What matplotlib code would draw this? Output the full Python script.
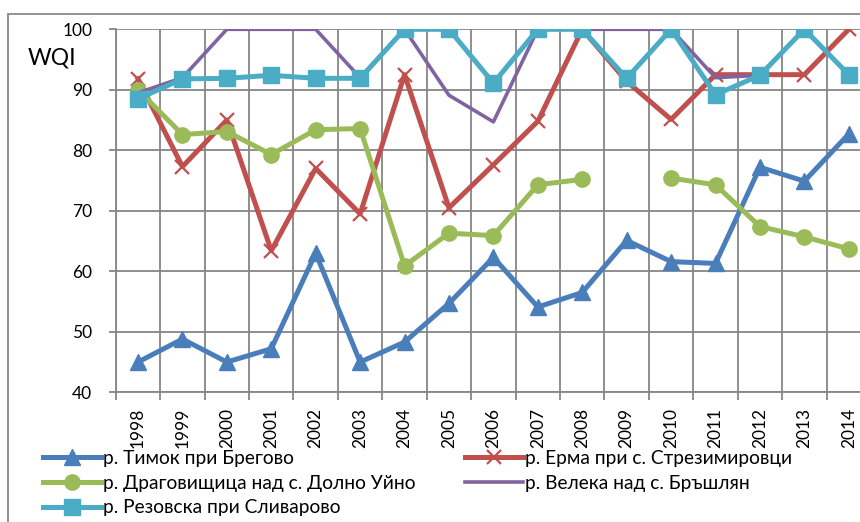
import numpy as np
import matplotlib
matplotlib.use("Agg")
import matplotlib.pyplot as plt
from matplotlib.patches import Rectangle

plt.rcParams['font.family'] = ['Lato', 'DejaVu Sans']

years = [str(y) for y in range(1998, 2015)]
timok = [45.0, 48.8, 45.0, 47.2, 63.0, 45.0, 48.3, 54.7, 62.3, 54.1, 56.5, 65.1, 61.6, 61.3, 77.2, 74.9, 82.7]
erma = [91.8, 77.3, 85.0, 63.4, 77.0, 69.5, 92.5, 70.5, 77.6, 84.8, 100.0, 91.4, 85.1, 92.5, 92.5, 92.5, 100.0]
dragov = [90.0, 82.6, 83.1, 79.3, 83.4, 83.6, 60.9, 66.3, 65.9, 74.3, 75.2, np.nan, 75.4, 74.3, 67.4, 65.7, 63.7]
veleka = [89.5, 92.0, 100.0, 100.0, 100.0, 92.0, 100.0, 89.1, 84.7, 100.0, 100.0, 100.0, 100.0, 92.0, 92.4, 100.0, 92.5]
rezov = [88.5, 91.8, 91.9, 92.4, 91.9, 91.9, 100.0, 100.0, 91.1, 100.0, 100.0, 91.9, 100.0, 89.2, 92.4, 100.0, 92.5]

labels = ["р. Тимок при Брегово", "р. Ерма при с. Стрезимировци",
          "р. Драговищица над с. Долно Уйно", "р. Велека над с. Бръшлян",
          "р. Резовска при Сливарово"]

W, H = 860, 522
fig = plt.figure(figsize=(W / 100, H / 100), dpi=100)

# outer chart border (partially cropped)
fig.patches.append(Rectangle((8 / W, -0.1), 1.2, 1 - 13.5 / H + 0.1, transform=fig.transFigure,
                             fill=False, edgecolor='#8a8a8a', linewidth=1.3))

left, right, top, bottom = 115.8, 871, 29.3, 392.3
ax = fig.add_axes([left / W, 1 - bottom / H, (right - left) / W, (bottom - top) / H])

x = np.arange(len(years))
blue, red, green, purple, cyan = '#4A7EBB', '#C0504D', '#9BBB59', '#8064A2', '#4BACC6'

l1, = ax.plot(x, timok, color=blue, lw=3.6, marker='^', ms=11, zorder=3)
l2, = ax.plot(x, erma, color=red, lw=3.6, marker='x', ms=10, mew=1.6, zorder=4)
l3, = ax.plot(x, dragov, color=green, lw=3.6, marker='o', ms=11, zorder=5)
l4, = ax.plot(x, veleka, color=purple, lw=2.6, zorder=6)
l5, = ax.plot(x, rezov, color=cyan, lw=3.6, marker='s', ms=12, zorder=7)

ax.set_xlim(-0.5, len(years) - 0.5)
ax.set_ylim(40, 100)
ax.set_yticks(range(40, 101, 10))
ax.tick_params(axis='y', labelsize=12.5, length=5, width=1.3, color='#868686', pad=12)
ax.set_xticks(x)
ax.set_xticklabels(years, rotation=90, fontsize=12.5)
ax.set_xticks(np.arange(-0.5, len(years), 1), minor=True)
ax.tick_params(axis='x', which='major', length=0, pad=11)
ax.tick_params(axis='x', which='minor', length=6, width=1.3, color='#868686')
ax.grid(True, which='minor', axis='x', color='#868686', lw=1.3)
ax.grid(True, which='major', axis='y', color='#868686', lw=1.3)
ax.set_axisbelow(True)
for s in ['top', 'right']:
    ax.spines[s].set_visible(False)
for s in ['left', 'bottom']:
    ax.spines[s].set_color('#868686')
    ax.spines[s].set_linewidth(1.3)

fig.text(52 / W, 1 - 58 / H, 'WQI', fontsize=16.5, ha='center', va='center')

kw = dict(frameon=False, fontsize=13.8, handlelength=3.0, handletextpad=0.15,
          labelspacing=0.40, borderaxespad=0, borderpad=0)
leg1 = fig.legend([l1, l3, l5], [labels[0], labels[2], labels[4]],
                  loc='upper left', bbox_to_anchor=(43 / W, 1 - 450 / H), **kw)
leg2 = fig.legend([l2, l4], [labels[1], labels[3]],
                  loc='upper left', bbox_to_anchor=(465 / W, 1 - 450 / H), **kw)

fig.savefig('out.png', dpi=100)
